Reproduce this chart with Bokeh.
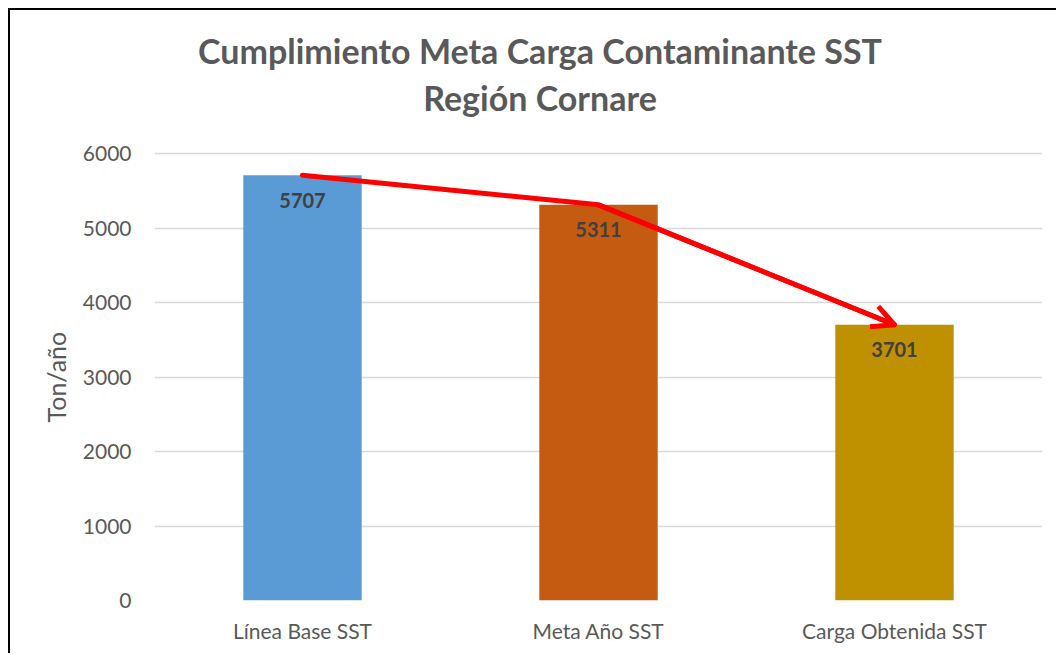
from bokeh.plotting import figure
from bokeh.models import FactorRange, Range1d, FixedTicker, Label, Title, Arrow, OpenHead, ColumnDataSource
from bokeh.core.properties import value
from bokeh.embed import file_html
from bokeh.resources import INLINE

categories = ["Línea Base SST", "Meta Año SST", "Carga Obtenida SST"]
values = [5707, 5311, 3701]
colors = ["#5B9BD5", "#C55A11", "#BF9000"]
labels = [str(v) for v in values]
y_ticks = [0, 1000, 2000, 3000, 4000, 5000, 6000]
title_lines = ["Cumplimiento Meta Carga Contaminante SST", "Región Cornare"]
y_title = "Ton/año"

FONT = "Lato"
GRAY = "#595959"

# frame spans from canvas y=5 to y=590 (585 px); 6000 sits 447 px above the baseline
TOP = 6000 * 585 / 447

src = ColumnDataSource(dict(cat=categories, val=values, color=colors, label=labels))

p = figure(x_range=FactorRange(*categories), y_range=Range1d(0, TOP),
           width=1048, height=645, output_backend="svg", toolbar_location=None,
           min_border_left=144, min_border_right=16, min_border_top=5, min_border_bottom=55)
p.styles = {"margin-left": "10px", "margin-top": "10px",
            "box-shadow": "-2px -2px 0px 0px black"}
p.outline_line_color = None
p.background_fill_color = "white"
p.border_fill_color = "white"

p.vbar(x="cat", top="val", width=0.4, fill_color="color", line_color=None, source=src)

p.text(x="cat", y="val", text="label", source=src, text_font=value(FONT), text_font_style="bold",
       text_font_size="20px", text_color="#404040", text_align="center", text_baseline="middle",
       y_offset=25)

p.line(x=categories, y=values, line_color="#FF0000", line_width=5, line_join="round", line_cap="round")
arrow_src = ColumnDataSource(dict(x0=[categories[1]], y0=[values[1]], x1=[categories[2]], y1=[values[2]]))
p.add_layout(Arrow(end=OpenHead(size=22, line_color="#FF0000", line_width=5),
                   x_start="x0", y_start="y0", x_end="x1", y_end="y1", source=arrow_src,
                   line_color="#FF0000", line_width=5))

p.xgrid.grid_line_color = None
p.ygrid.grid_line_color = "#D9D9D9"
p.ygrid.grid_line_width = 1.5
p.yaxis.ticker = FixedTicker(ticks=y_ticks)

for ax in (p.xaxis[0], p.yaxis[0]):
    ax.axis_line_color = None
    ax.major_tick_line_color = None
    ax.minor_tick_line_color = None
    ax.major_label_text_font = FONT
    ax.major_label_text_font_size = "21px"
    ax.major_label_text_color = GRAY

p.yaxis.major_label_standoff = 17
p.xaxis.major_label_standoff = 11

# y-axis title, positioned against the 0..6000 part of the frame
p.add_layout(Title(text=y_title, align="left", offset=178, standoff=18, text_font=FONT,
                   text_font_size="25px", text_font_style="normal", text_color=GRAY), "left")

# chart title lines, centred a little left of the plot-area centre (as in the original)
for txt, yb in zip(title_lines, [7382.5, 6751.7]):
    p.add_layout(Label(x=1.3024, y=yb, text=txt,
                       text_font=FONT, text_font_size="34px", text_font_style="bold",
                       text_color=GRAY, text_align="center", text_baseline="alphabetic"))

open("out.html", "w").write(file_html(p, INLINE))
